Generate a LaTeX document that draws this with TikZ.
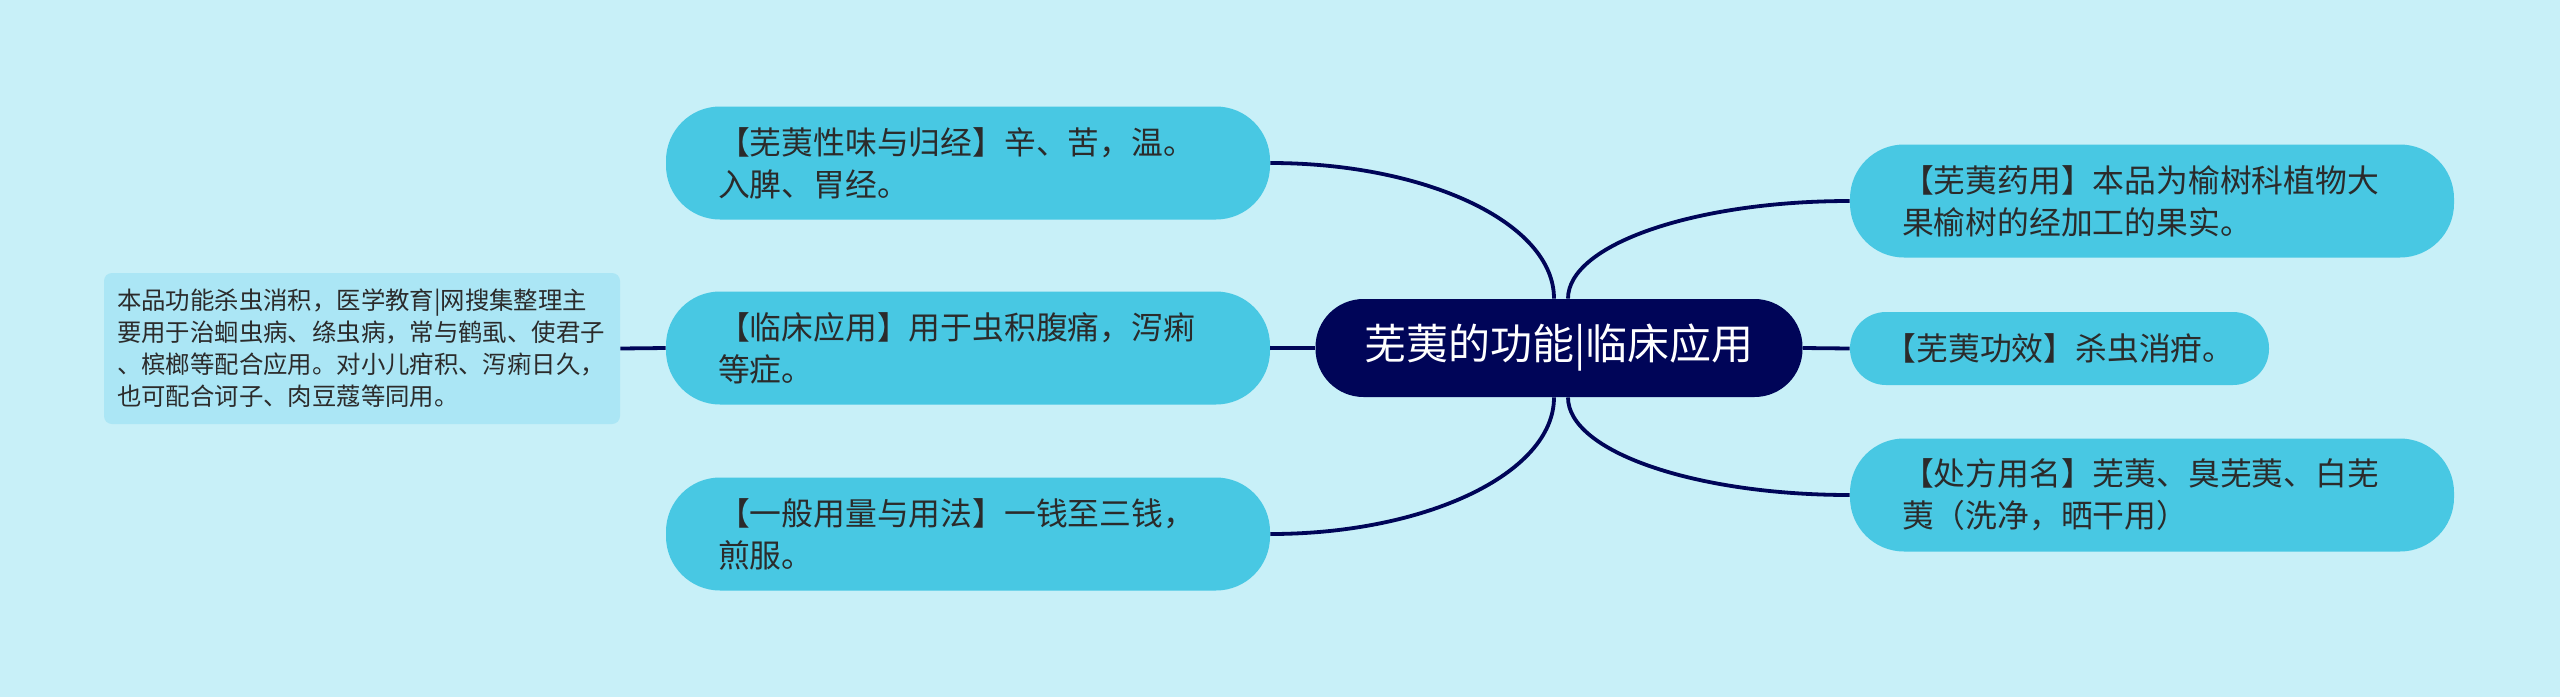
\documentclass[tikz,border=0pt]{standalone}
\usepackage{fontspec}
\setmainfont{Noto Sans CJK SC}

\definecolor{bgcol}{HTML}{C8F0F8}
\definecolor{leafcol}{HTML}{48C8E3}
\definecolor{notecol}{HTML}{ABE6F5}
\definecolor{navycol}{HTML}{000558}
\definecolor{txtcol}{HTML}{2B2B2B}

\begin{document}
\begin{tikzpicture}
  [x=0.5pt,y=-0.5pt,
   rootnode/.style={fill=navycol, text=white, rounded corners=24pt, minimum width=243.5pt, minimum height=49pt, inner sep=0pt, font=\fontsize{21}{24}\selectfont},
   leaf/.style={fill=leafcol, text=txtcol, rounded corners=27pt, text width=250pt, align=left, inner xsep=26pt, inner ysep=0pt, minimum height=56.5pt, font=\fontsize{15.9}{21}\selectfont},
   leafshort/.style={fill=leafcol, text=txtcol, rounded corners=18pt, inner xsep=14pt, inner ysep=0pt, minimum width=209.5pt, minimum height=36.5pt, font=\fontsize{15.9}{21}\selectfont},
   notebox/.style={fill=notecol, text=txtcol, rounded corners=4pt, text width=245pt, align=left, inner xsep=6.5pt, inner ysep=0pt, minimum height=75.5pt, font=\fontsize{12.2}{16}\selectfont},
   branch/.style={draw=navycol, line width=1.9pt}]

  \useasboundingbox (0,0) rectangle (2560,697);
  \fill[bgcol] (0,0) rectangle (2560,697);

  %%%%%%%%%%%%%%%%%%%%%% ROOT %%%%%%%%%%%%%%%%%%%%%%
  \node[rootnode] (root) at (1559,348) {芜荑的功能|临床应用};

  %%%%%%%%%%%%%%%%%%%%%% LEFT %%%%%%%%%%%%%%%%%%%%%%
  \node[leaf] (xingwei) at (968,163) {【芜荑性味与归经】辛、苦，温。\\入脾、胃经。};
  \node[leaf] (linchuang) at (968,348) {【临床应用】用于虫积腹痛，泻痢\\等症。};
  \node[leaf] (yongliang) at (968,534) {【一般用量与用法】一钱至三钱，\\煎服。};
  \node[notebox] (beizhu) at (362,348.5) {本品功能杀虫消积，医学教育|网搜集整理主\\要用于治蛔虫病、绦虫病，常与鹤虱、使君子\\、槟榔等配合应用。对小儿疳积、泻痢日久，\\也可配合诃子、肉豆蔻等同用。};

  %%%%%%%%%%%%%%%%%%%%%% RIGHT %%%%%%%%%%%%%%%%%%%%%%
  \node[leaf] (yaoyong) at (2152,201) {【芜荑药用】本品为榆树科植物大\\果榆树的经加工的果实。};
  \node[leafshort] (gongxiao) at (2059.5,348.5) {【芜荑功效】杀虫消疳。};
  \node[leaf] (chufang) at (2152,495) {【处方用名】芜荑、臭芜荑、白芜\\荑（洗净，晒干用）};

  \draw[branch] ([xshift=-2.5pt]root.north) .. controls +(0,-76) and +(155,0) .. (xingwei.east);
  \draw[branch] ([xshift=-2.5pt]root.south) .. controls +(0,76) and +(155,0) .. (yongliang.east);
  \draw[branch] ([xshift=4.5pt]root.north) .. controls +(0,-54) and +(-155,0) .. (yaoyong.west);
  \draw[branch] ([xshift=4.5pt]root.south) .. controls +(0,54) and +(-155,0) .. (chufang.west);

  \foreach \fromnode/\tonode in {root.west/linchuang.east,linchuang.west/beizhu.east,root.east/gongxiao.west}
    \draw[branch] (\fromnode) -- (\tonode);

\end{tikzpicture}
\end{document}
